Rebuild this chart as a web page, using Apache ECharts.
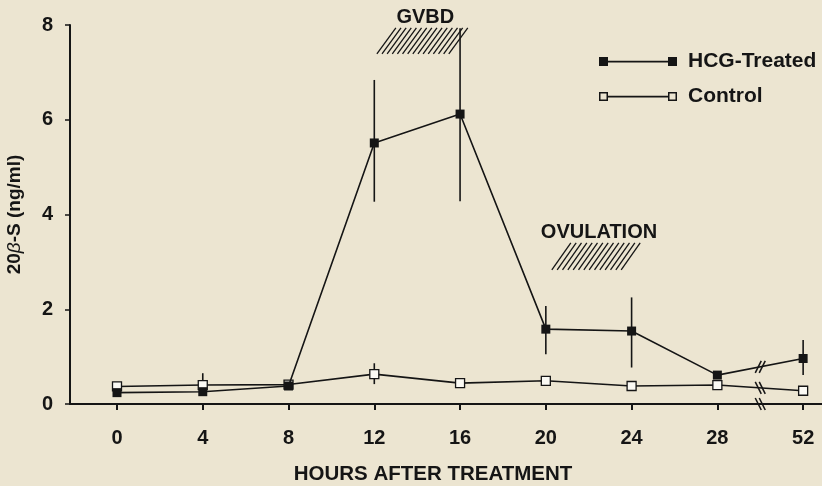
<!DOCTYPE html>
<html><head><meta charset="utf-8">
<script src="https://cdn.jsdelivr.net/npm/echarts@6/dist/echarts.min.js"></script>
<style>html,body{margin:0;padding:0;background:#ece5d1}#c{width:822px;height:486px}</style>
</head><body><div id="c"></div><script>
// ---- data ----
const hours = ['0','4','8','12','16','20','24','28','52'];
const hcgTreated = [0.24,0.26,0.38,5.51,6.12,1.58,1.54,0.61,0.96];
const hcgLow  = [null,null,null,4.27,4.28,1.05,0.77,null,0.61];
const hcgHigh = [null,null,null,6.84,7.93,2.07,2.25,null,1.35];
const control = [0.37,0.40,0.41,0.63,0.44,0.49,0.38,0.40,0.28];
const controlLow  = [null,0.20,null,0.42,null,null,null,null,null];
const controlHigh = [null,0.65,null,0.86,null,null,null,null,null];
const yTicks = [0,2,4,6,8];
const eventNames = ['GVBD','OVULATION'];
const eventStart = [3.03, 5.07];   // hour-index of hatch left (bottom) edge
const eventEnd   = [4.09, 6.10];   // hour-index of hatch right (top) edge
const eventLow   = [7.39, 2.83];
const eventHigh  = [7.94, 3.40];
const breakAt = 7.5;

// ---- build ----
const FONT = "'Liberation Sans', Arial, Helvetica, sans-serif";
const INK = '#151515';
const FS = 20;
const idx = hours.map((h,i)=>i);
const toXY = arr => arr.map((v,i)=>[i,v]);
const errData = (lo,hi) => lo.map((l,i)=> l==null?null:[i,l,hi[i]]).filter(d=>d);

const errSeries = (name, lo, hi) => ({
  type:'custom', name: name+'-err', z:1, silent:true,
  data: errData(lo,hi),
  renderItem(params, api){
    const p1 = api.coord([api.value(0), api.value(1)]);
    const p2 = api.coord([api.value(0), api.value(2)]);
    return {type:'line', shape:{x1:p1[0],y1:p1[1],x2:p2[0],y2:p2[1]}, style:{stroke:INK, lineWidth:1.6}};
  }
});

const hatchData = eventNames.map((n,i)=>[eventStart[i], eventEnd[i], eventLow[i], eventHigh[i]]);
const breakData = [
  [breakAt, (hcgTreated[7]+hcgTreated[8])/2, 1],
  [breakAt, (control[7]+control[8])/2, -1],
  [breakAt, 0, -1]
];

const filledIcon = 'path://M0,0L9,0L9,9L0,9Z M9,3.8L69,3.8L69,5.4L9,5.4Z M69,0L78,0L78,9L69,9Z';
const hollowIcon = 'path://M0,0L9,0L9,9L0,9Z M1.5,1.5L1.5,7.5L7.5,7.5L7.5,1.5Z M9,3.8L69,3.8L69,5.4L9,5.4Z M69,0L78,0L78,9L69,9Z M70.5,1.5L70.5,7.5L76.5,7.5L76.5,1.5Z';

const chart = echarts.init(document.getElementById('c'), null, {renderer:'canvas'});
chart.setOption({
  backgroundColor:'#ece5d1',
  animation:false,
  textStyle:{fontFamily:FONT},
  grid:{left:70, right:0, top:25, bottom:82, containLabel:false, outerBoundsMode:'none'},
  legend:{
    orient:'vertical', left:599, top:51, padding:0, itemWidth:78, itemHeight:9, itemGap:14,
    textStyle:{fontFamily:FONT, fontWeight:'bold', fontSize:21, lineHeight:21, color:INK, padding:[0,0,0,6]},
    data:[
      {name:'HCG-Treated', icon:filledIcon, itemStyle:{color:INK, borderWidth:0}},
      {name:'Control', icon:hollowIcon, itemStyle:{color:INK, borderWidth:0}}
    ]
  },
  xAxis:{
    type:'value', min:-0.548, max:8.22,
    splitLine:{show:false},
    axisLine:{onZero:false, lineStyle:{color:INK, width:2}},
    axisTick:{customValues:idx, length:6, lineStyle:{color:INK, width:2}},
    axisLabel:{customValues:idx, formatter:v=>hours[Math.round(v)], margin:24,
      fontFamily:FONT, fontWeight:'bold', fontSize:FS, color:INK},
    name:'HOURS AFTER TREATMENT', nameLocation:'middle', nameGap:60,
    nameTextStyle:{fontFamily:FONT, fontWeight:'bold', fontSize:20.5, color:INK, padding:[0,26,0,0]}
  },
  yAxis:{
    type:'value', min:yTicks[0], max:yTicks[yTicks.length-1], interval:2,
    splitLine:{show:false},
    axisLine:{show:true, onZero:false, lineStyle:{color:INK, width:2}},
    axisTick:{show:true, length:5, lineStyle:{color:INK, width:1.5}},
    axisLabel:{margin:17, fontFamily:FONT, fontWeight:'bold', fontSize:FS, color:INK},
    name:'20{i|β}-S (ng/ml)', nameLocation:'middle', nameGap:46,
    nameTextStyle:{fontFamily:FONT, fontWeight:'bold', fontSize:19, color:INK,
      rich:{i:{fontFamily:FONT, fontStyle:'italic', fontWeight:'normal', fontSize:19, color:INK}}}
  },
  series:[
    errSeries('control', controlLow, controlHigh),
    errSeries('hcg', hcgLow, hcgHigh),
    {
      name:'Control', type:'line', z:3, data:toXY(control),
      symbol:'rect', symbolSize:9, showAllSymbol:true,
      lineStyle:{color:INK, width:1.6},
      itemStyle:{color:'#fbfaf4', borderColor:INK, borderWidth:1.3}
    },
    {
      name:'HCG-Treated', type:'line', z:4, data:toXY(hcgTreated),
      symbol:'rect', symbolSize:9, showAllSymbol:true,
      lineStyle:{color:INK, width:1.6},
      itemStyle:{color:INK, borderColor:INK, borderWidth:0}
    },
    {
      type:'custom', name:'events', z:2, silent:true, data:hatchData,
      renderItem(params, api){
        const bl = api.coord([api.value(0), api.value(2)]);
        const tr = api.coord([api.value(1), api.value(3)]);
        const slant = 19;
        const w = tr[0]-bl[0]-slant;
        const n = Math.round(w/5.3);
        const children = [];
        for(let i=0;i<=n;i++){
          const x = bl[0] + w*i/n;
          children.push({type:'line', shape:{x1:x, y1:bl[1], x2:x+slant, y2:tr[1]}, style:{stroke:INK, lineWidth:1.3}});
        }
        children.push({type:'text', x:(bl[0]+tr[0])/2+3, y:tr[1]-10,
          style:{text:eventNames[params.dataIndex], align:'center', verticalAlign:'middle',
            font:"bold 20px 'Liberation Sans', Arial, sans-serif", fill:INK}});
        return {type:'group', children};
      }
    },
    {
      type:'custom', name:'breaks', z:5, silent:true, data:breakData,
      renderItem(params, api){
        const c = api.coord([api.value(0), api.value(1)]);
        const dir = api.value(2);
        const children = [];
        [-2,2].forEach(d=>{
          children.push({type:'line', shape:{x1:c[0]+d-3*dir, y1:c[1]+6, x2:c[0]+d+3*dir, y2:c[1]-6},
            style:{stroke:INK, lineWidth:1.5}});
        });
        return {type:'group', children};
      }
    }
  ]
});
</script></body></html>
